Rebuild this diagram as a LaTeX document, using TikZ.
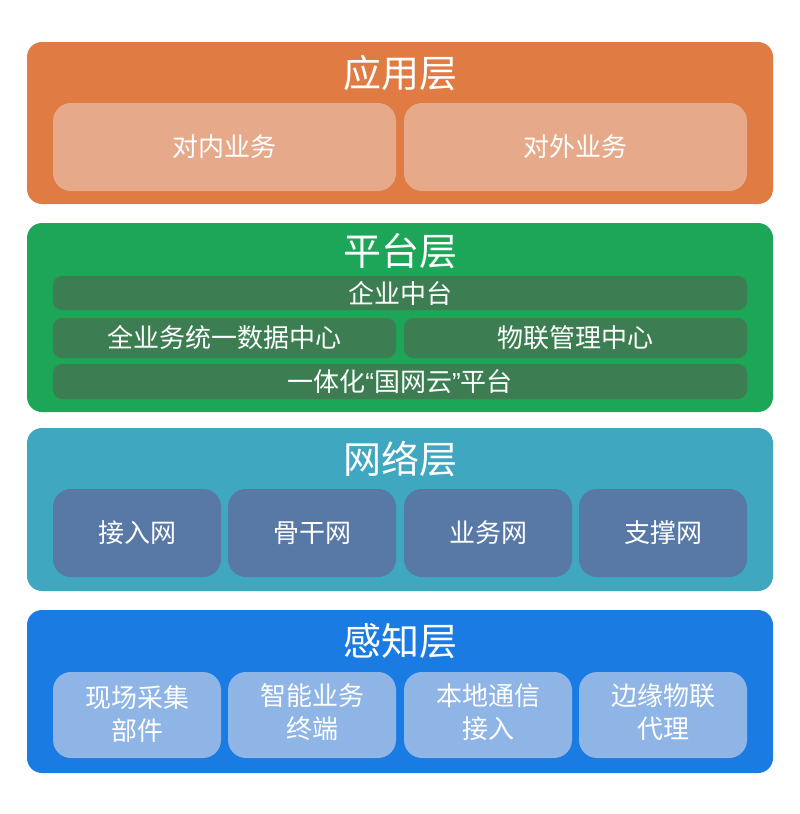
\documentclass[tikz,border=0pt]{standalone}
\usepackage{fontspec}
\setmainfont{Noto Sans CJK SC}
\newfontfamily\qfont{Liberation Sans}
\definecolor{cOrange}{HTML}{E07B43}
\definecolor{cPeach}{HTML}{E6AA8A}
\definecolor{cGreen}{HTML}{1DA657}
\definecolor{cBar}{HTML}{3C7E52}
\definecolor{cTeal}{HTML}{3FA7BF}
\definecolor{cSlate}{HTML}{5878A5}
\definecolor{cBlue}{HTML}{1A7BE3}
\definecolor{cLight}{HTML}{8EB5E6}
\tikzset{
  layerbox/.style={rounded corners=15pt},
  titletext/.style={text=white, font=\fontsize{38}{42}\selectfont, anchor=center, inner sep=0pt},
  itembox/.style={rounded corners=18pt},
  bar/.style={rounded corners=9pt, fill=cBar},
  itemtext/.style={text=white, font=\fontsize{26}{33}\selectfont, align=center, inner sep=0pt},
}
\begin{document}
\begin{tikzpicture}[x=1pt,y=-1pt]
\useasboundingbox (0,0) rectangle (800,814);
\fill[white] (0,0) rectangle (800,814);
% application layer
\fill[layerbox, cOrange] (27,42) rectangle (773,204);
\node[titletext] (tApp) at (400,73) {应用层};
\fill[itembox, cPeach] (53,103) rectangle (396,191);
\node[itemtext] (a1) at (224.5,147) {对内业务};
\fill[itembox, cPeach] (404,103) rectangle (747,191);
\node[itemtext] (a2) at (575.5,147) {对外业务};
% platform layer
\fill[layerbox, cGreen] (27,223) rectangle (773,412);
\node[titletext] (tPlat) at (400,251) {平台层};
\fill[bar] (53,276) rectangle (747,310);
\node[itemtext] (p1) at (400,293) {企业中台};
\fill[bar] (53,318) rectangle (396,358);
\node[itemtext] (p2) at (224.5,338) {全业务统一数据中心};
\fill[bar] (404,318) rectangle (747,358);
\node[itemtext] (p3) at (575.5,338) {物联管理中心};
\fill[bar] (53,364) rectangle (747,399);
\node[itemtext] (p4) at (400,381.5) {一体化{\qfont “}国网云{\qfont ”}平台};
% network layer
\fill[layerbox, cTeal] (27,428) rectangle (773,591);
\node[titletext] (tNet) at (400,459) {网络层};
\fill[itembox, cSlate] (53,489) rectangle (221,577);
\node[itemtext] (n1) at (137,533) {接入网};
\fill[itembox, cSlate] (228,489) rectangle (396,577);
\node[itemtext] (n2) at (312,533) {骨干网};
\fill[itembox, cSlate] (404,489) rectangle (572,577);
\node[itemtext] (n3) at (488,533) {业务网};
\fill[itembox, cSlate] (579,489) rectangle (747,577);
\node[itemtext] (n4) at (663,533) {支撑网};
% sensing layer
\fill[layerbox, cBlue] (27,610) rectangle (773,773);
\node[titletext] (tSen) at (400,641) {感知层};
\fill[itembox, cLight] (53,672) rectangle (221,758);
\node[itemtext] (s1) at (137,714) {现场采集\\部件};
\fill[itembox, cLight] (228,672) rectangle (396,758);
\node[itemtext] (s2) at (312,712) {智能业务\\终端};
\fill[itembox, cLight] (404,672) rectangle (572,758);
\node[itemtext] (s3) at (488,712) {本地通信\\接入};
\fill[itembox, cLight] (579,672) rectangle (747,758);
\node[itemtext] (s4) at (663,712) {边缘物联\\代理};
\end{tikzpicture}
\end{document}
